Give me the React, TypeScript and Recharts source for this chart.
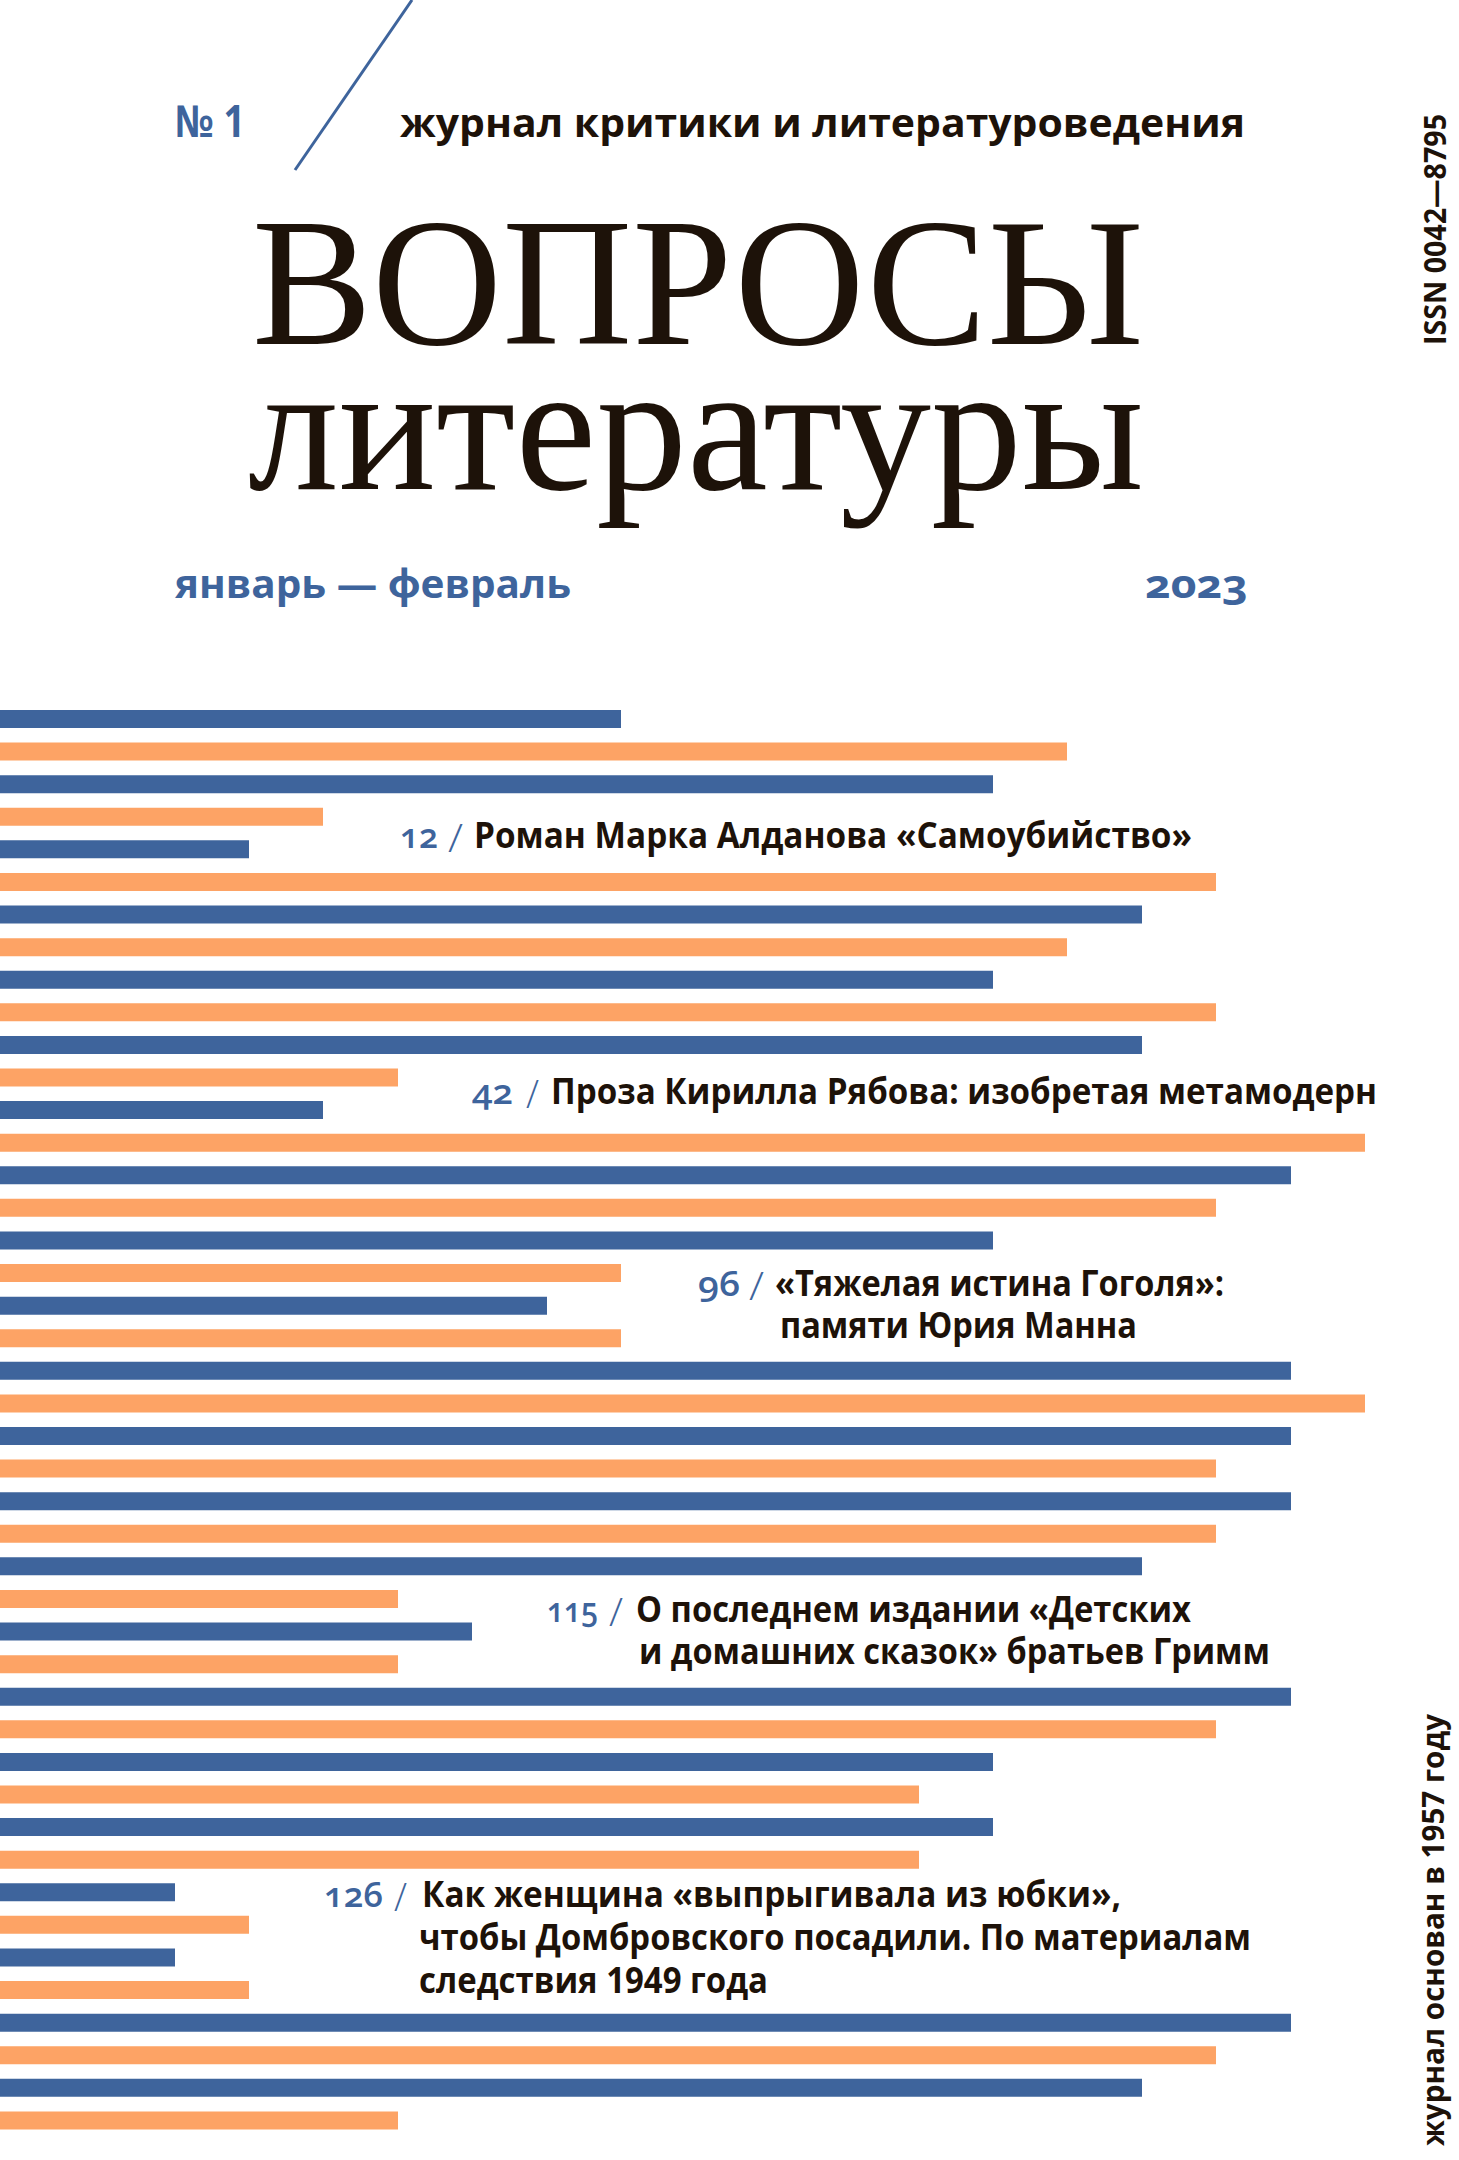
import { BarChart, Bar, XAxis, YAxis } from "recharts";

const blueLengths = [
  621, 993, 249, 1142, 993, 1142, 323, 1291, 993, 547, 1291,
  1291, 1291, 1142, 472, 1291, 993, 993, 175, 175, 1291, 1142,
];
const orangeLengths = [
  1067, 323, 1216, 1067, 1216, 398, 1365, 1216, 621, 621, 1365,
  1216, 1216, 398, 398, 1216, 919, 919, 249, 249, 1216, 398,
];

const issue = "№ 1";
const subtitle = "журнал критики и литературоведения";
const titleTop = "ВОПРОСЫ";
const titleBottom = "литературы";
const months = "январь — февраль";
const year = "2023";
const issn = "ISSN 0042—8795";
const founded = "журнал основан в 1957 году";

const pages = ["12", "42", "96", "115", "126"];
const articleLines = [
  ["Роман Марка Алданова «Самоубийство»"],
  ["Проза Кирилла Рябова: изобретая метамодерн"],
  ["«Тяжелая истина Гоголя»:", "памяти Юрия Манна"],
  ["О последнем издании «Детских", "и домашних сказок» братьев Гримм"],
  [
    "Как женщина «выпрыгивала из юбки»,",
    "чтобы Домбровского посадили. По материалам",
    "следствия 1949 года",
  ],
];

const BLUE = "#3e649c";
const ORANGE = "#fda365";
const DARK = "#1d1209";
const SANS = "'Open Sans', 'Noto Sans', sans-serif";
const SERIF = "'Liberation Serif', 'DejaVu Serif', serif";

// where each article block sits: page number, slash, then each title line
const articleLayout = [
  { num: [400, 38], slash: [448, 15], x: [474], w: [718], y: [848] },
  { num: [472, 41], slash: [526, 13], x: [551], w: [826], y: [1104] },
  { num: [698, 42], slash: [749, 15], x: [775, 780], w: [449, 357], y: [1296, 1338] },
  { num: [547, 51], slash: [609, 14], x: [636, 639], w: [555, 631], y: [1622, 1664] },
  { num: [324, 59], slash: [394, 13], x: [422, 419, 419], w: [699, 832, 349], y: [1907, 1950, 1993] },
];

const rows = blueLengths.flatMap((b, i) => [
  { row: `b${i}`, blue: b, orange: 0 },
  { row: `o${i}`, blue: 0, orange: orangeLengths[i] },
]);

export default function App() {
  return (
    <div style={{ position: "relative", width: 1459, height: 2160, background: "#fff", overflow: "hidden" }}>
      <style>{`body{margin:0}`}</style>

      <div style={{ position: "absolute", left: 0, top: 703 }}>
        <BarChart
          width={1459}
          height={1434}
          data={rows}
          layout="vertical"
          margin={{ top: 0, right: 0, bottom: 0, left: 0 }}
        >
          <XAxis type="number" domain={[0, 1459]} hide />
          <YAxis type="category" dataKey="row" hide />
          <Bar dataKey="blue" stackId="s" fill={BLUE} barSize={18} isAnimationActive={false} />
          <Bar dataKey="orange" stackId="s" fill={ORANGE} barSize={18} isAnimationActive={false} />
        </BarChart>
      </div>

      <svg width={1459} height={2160} style={{ position: "absolute", left: 0, top: 0, pointerEvents: "none" }}>
        <line x1={412} y1={0} x2={295} y2={170} stroke={BLUE} strokeWidth={3} />

        <text x={175} y={137} fontFamily={SANS} fontWeight={700} fontSize={44} fill={BLUE}
          textLength={70} lengthAdjust="spacingAndGlyphs">{issue}</text>
        <text x={400} y={137} fontFamily={SANS} fontWeight={700} fontSize={40} fill={DARK}
          textLength={845} lengthAdjust="spacingAndGlyphs">{subtitle}</text>

        <text x={252} y={344} fontFamily={SERIF} fontSize={182} fill={DARK}
          textLength={892} lengthAdjust="spacingAndGlyphs">{titleTop}</text>
        <text x={248} y={489} fontFamily={SERIF} fontSize={182} fill={DARK}
          textLength={896} lengthAdjust="spacingAndGlyphs">{titleBottom}</text>

        <text x={175} y={598} fontFamily={SANS} fontWeight={700} fontSize={40} fill={BLUE}
          textLength={396} lengthAdjust="spacingAndGlyphs">{months}</text>
        <text x={1145} y={598} fontFamily={SANS} fontWeight={700} fontSize={40} fill={BLUE}
          style={{ fontVariantNumeric: "oldstyle-nums" }}
          textLength={103} lengthAdjust="spacingAndGlyphs">{year}</text>

        <text transform="translate(1446 345) rotate(-90)" fontFamily={SANS} fontWeight={700} fontSize={30} fill={DARK}
          textLength={231} lengthAdjust="spacingAndGlyphs">{issn}</text>
        <text transform="translate(1444 2146) rotate(-90)" fontFamily={SANS} fontWeight={700} fontSize={30} fill={DARK}
          textLength={432} lengthAdjust="spacingAndGlyphs">{founded}</text>

        {pages.map((p, i) => {
          const l = articleLayout[i];
          return (
            <g key={p}>
              <text x={l.num[0]} y={l.y[0]} fontFamily={SANS} fontWeight={600} fontSize={35} fill={BLUE}
                style={{ fontVariantNumeric: "oldstyle-nums" }}
                textLength={l.num[1]} lengthAdjust="spacingAndGlyphs">{p}</text>
              <text x={l.slash[0]} y={l.y[0] + 4} fontFamily={SANS} fontWeight={300} fontSize={38} fill={BLUE}
                textLength={l.slash[1]} lengthAdjust="spacingAndGlyphs">/</text>
              {articleLines[i].map((line, j) => (
                <text key={j} x={l.x[j]} y={l.y[j]} fontFamily={SANS} fontWeight={700} fontSize={35} fill={DARK}
                  textLength={l.w[j]} lengthAdjust="spacingAndGlyphs">{line}</text>
              ))}
            </g>
          );
        })}
      </svg>
    </div>
  );
}
